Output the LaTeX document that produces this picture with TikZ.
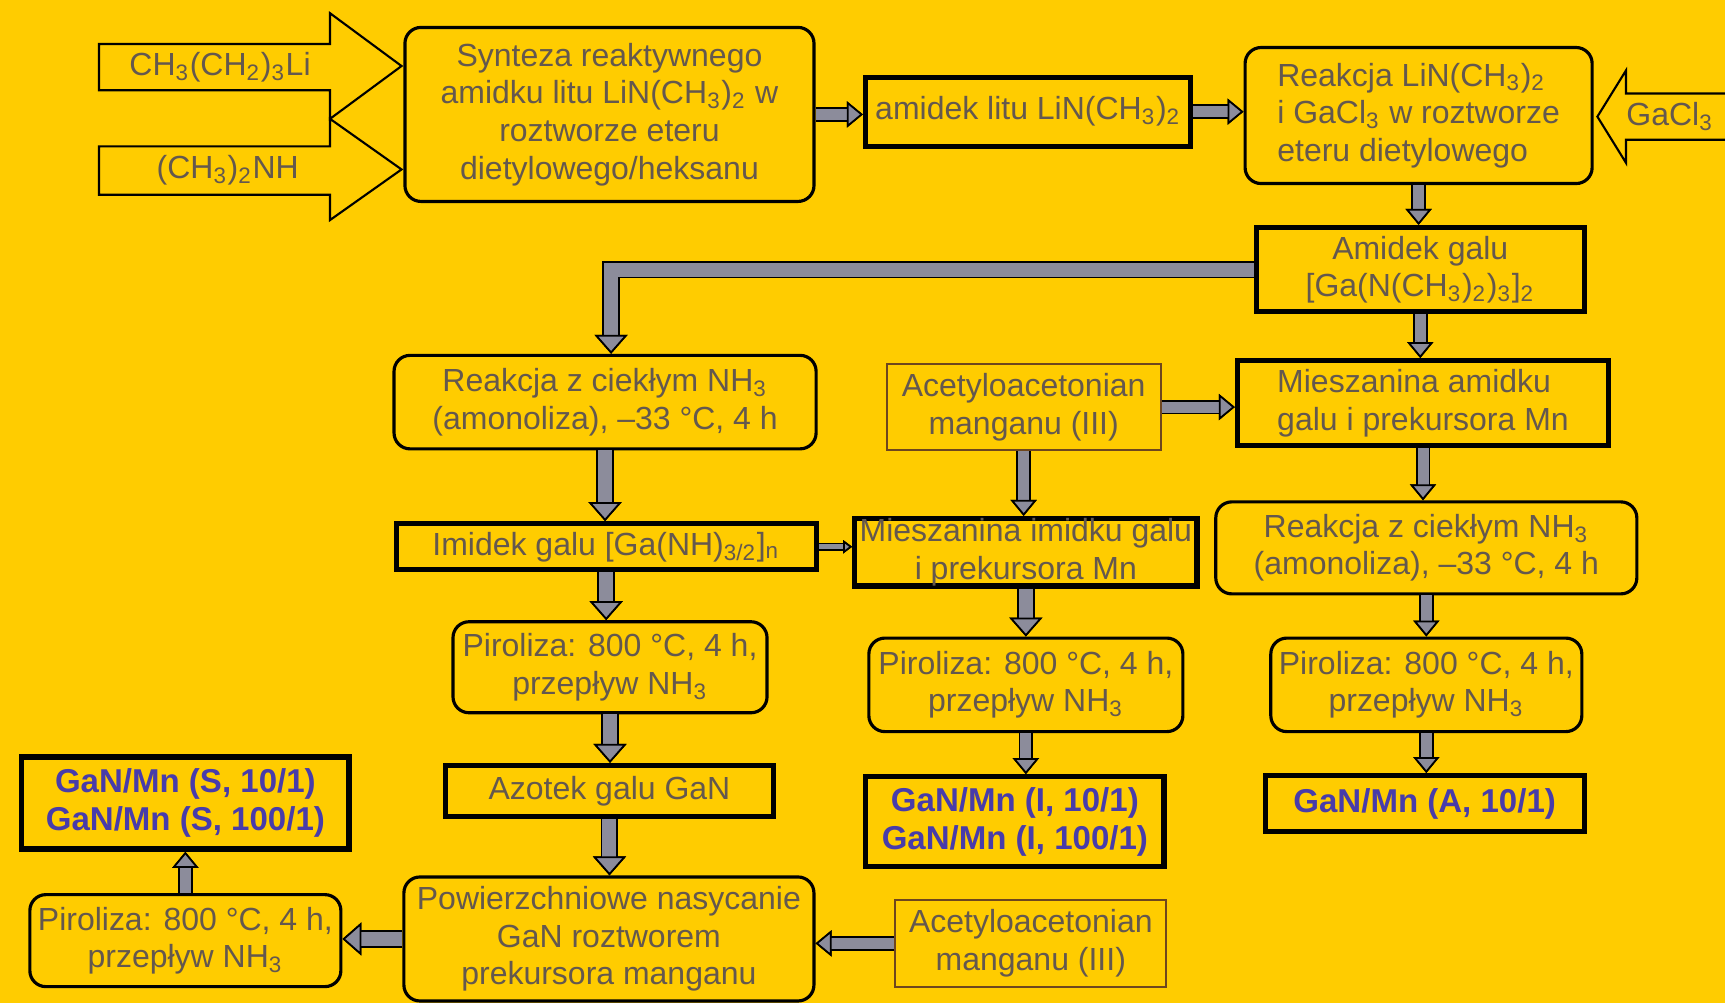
\documentclass[tikz,border=0pt]{standalone}
\usepackage{fontspec}
\setmainfont{Liberation Sans}
\usetikzlibrary{arrows.meta,positioning,calc}
\definecolor{bgyellow}{RGB}{255,204,0}
\definecolor{txtgray}{RGB}{100,88,78}
\definecolor{resblue}{RGB}{72,60,170}
\definecolor{arrowgray}{RGB}{140,140,155}
\definecolor{thinbrown}{RGB}{110,70,30}

\begin{document}
\begin{tikzpicture}[x=0.11mm, y=-0.11mm,
    box/.style={rectangle, draw=black, text=txtgray, align=center, inner sep=0pt, font=\fontsize{9.1}{10.7}\selectfont},
    stage/.style={box, rounded corners=1.6mm, line width=0.9pt},
    product/.style={box, line width=1.5pt},
    reagent/.style={box, draw=thinbrown, line width=0.6pt},
    result/.style={product, text=resblue, font=\fontsize{9.4}{10.7}\selectfont\bfseries},
    feed/.style={draw=black, line width=0.6pt, fill=bgyellow},
    feedtext/.style={text=txtgray, font=\fontsize{9.1}{10.7}\selectfont},
    flow/.style n args={3}{draw=arrowgray, line width=#1,
      -{Triangle[width=#2, length=#3, line width=0.5pt, color=black, fill=arrowgray]},
      preaction={draw=black, line width=#1+1pt, -{Triangle[width=#2, length=#3, line width=0.5pt]}}},
    bigflow/.style={flow={1.4mm}{3.3mm}{1.9mm}},
    midflow/.style={flow={1.1mm}{2.6mm}{1.6mm}},
    thinflow/.style={flow={0.5mm}{1.3mm}{0.9mm}}
  ]

  \useasboundingbox (0,0) rectangle (1568,912);
  \fill[bgyellow] (0,0) rectangle (1568,912);

  % Starting reagents
  \draw[feed] (90,40) -- (300,40) -- (300,12) -- (365,60) -- (300,108) -- (300,82) -- (90,82) -- cycle;
  \draw[feed] (90,133) -- (300,133) -- (300,108) -- (365,154) -- (300,200) -- (300,177) -- (90,177) -- cycle;
  \node[feedtext] (buli) at (200,61) {CH\textsubscript{3}(CH\textsubscript{2})\textsubscript{3}Li};
  \node[feedtext] (dma) at (207,155) {(CH\textsubscript{3})\textsubscript{2}NH};
  \draw[feed] (1568,85) -- (1478,85) -- (1478,64) -- (1452,106) -- (1478,148) -- (1478,127) -- (1568,127);
  \node[feedtext] (gacl) at (1518,106) {GaCl\textsubscript{3}};

  % Top row
  \node[stage, minimum width=40.9mm, minimum height=17.4mm] (synth) at (554,104)
    {Synteza reaktywnego\\ amidku litu LiN(CH\textsubscript{3})\textsubscript{2} w\\ roztworze eteru\\ dietylowego/heksanu};
  \node[product, minimum width=32.5mm, minimum height=6.9mm] (liamide) at (934.5,101.5)
    {amidek litu LiN(CH\textsubscript{3})\textsubscript{2}};
  \node[stage, align=left, minimum width=34.7mm, minimum height=13.6mm] (react) at (1289.5,105)
    {Reakcja LiN(CH\textsubscript{3})\textsubscript{2}\\ i GaCl\textsubscript{3} w roztworze\\ eteru dietylowego};
  \node[product, minimum width=32.8mm, minimum height=8.4mm] (gaamide) at (1291,245)
    {Amidek galu\\ {}[Ga(N(CH\textsubscript{3})\textsubscript{2})\textsubscript{3}]\textsubscript{2}};

  % Second row
  \node[stage, minimum width=42.2mm, minimum height=9.35mm] (ammon1) at (550,365.5)
    {Reakcja z ciekłym NH\textsubscript{3}\\ (amonoliza), –33 °C, 4 h};
  \node[reagent, minimum width=27.4mm, minimum height=8.6mm] (acac1) at (930.5,370)
    {Acetyloacetonian\\ manganu (III)};
  \node[product, align=left, minimum width=37.1mm, minimum height=8.5mm] (mix1) at (1293.5,366.5)
    {Mieszanina amidku\\ galu i prekursora Mn};

  % Third row
  \node[product, minimum width=42mm, minimum height=4.6mm] (imide) at (551,497)
    {Imidek galu [Ga(NH)\textsubscript{3/2}]\textsubscript{n}};
  \node[product, minimum width=34.2mm, minimum height=6.2mm] (mix2) at (932.5,502)
    {Mieszanina imidku galu\\ i prekursora Mn};
  \node[stage, minimum width=42.1mm, minimum height=9.2mm] (ammon2) at (1296.5,498)
    {Reakcja z ciekłym NH\textsubscript{3}\\ (amonoliza), –33 °C, 4 h};

  % Pyrolysis
  \node[stage, minimum width=31.4mm, minimum height=9.1mm] (pyro1) at (554.5,606.5)
    {Piroliza: 800 °C, 4 h,\\ przepływ NH\textsubscript{3}};
  \node[stage, minimum width=31.4mm, minimum height=9.35mm] (pyro2) at (932.5,622.5)
    {Piroliza: 800 °C, 4 h,\\ przepływ NH\textsubscript{3}};
  \node[stage, minimum width=31.1mm, minimum height=9.35mm] (pyro3) at (1296.5,622.5)
    {Piroliza: 800 °C, 4 h,\\ przepływ NH\textsubscript{3}};

  % Products
  \node[product, minimum width=32.8mm, minimum height=5.1mm] (gan) at (554,719) {Azotek galu GaN};
  \node[result, minimum width=29.8mm, minimum height=9mm] (resI) at (922.5,747)
    {GaN/Mn (I, 10/1)\\ GaN/Mn (I, 100/1)};
  \node[result, minimum width=31.9mm, minimum height=5.6mm] (resA) at (1295,730.5) {GaN/Mn (A, 10/1)};
  \node[result, minimum width=32.7mm, minimum height=9.2mm] (resS) at (168.5,730)
    {GaN/Mn (S, 10/1)\\ GaN/Mn (S, 100/1)};

  % Bottom row
  \node[stage, minimum width=31.1mm, minimum height=9.2mm] (pyro4) at (168.5,855)
    {Piroliza: 800 °C, 4 h,\\ przepływ NH\textsubscript{3}};
  \node[stage, minimum width=41mm, minimum height=12.4mm] (soak) at (553.5,853.5)
    {Powierzchniowe nasycanie\\ GaN roztworem\\ prekursora manganu};
  \node[reagent, minimum width=27.1mm, minimum height=8.7mm] (acac2) at (937,857.5)
    {Acetyloacetonian\\ manganu (III)};

  % Connectors
  \draw[midflow] (synth.east) -- (synth.east -| liamide.west);
  \draw[midflow] (liamide.east) -- (liamide.east -| react.west);
  \draw[midflow] (react.south) -- (react.south |- gaamide.north);
  \draw[bigflow] (gaamide.west) -| ([xshift=0.6mm]ammon1.north);
  \draw[midflow] (gaamide.south) -- (gaamide.south |- mix1.north);
  \draw[midflow] (acac1.east) -- (acac1.east -| mix1.west);
  \draw[bigflow] (ammon1.south) -- (ammon1.south |- imide.north);
  \draw[thinflow] (imide.east) -- (imide.east -| mix2.west);
  \draw[midflow] (acac1.south) -- (acac1.south |- mix2.north);
  \draw[midflow] (mix1.south) -- (mix1.south |- ammon2.north);
  \draw[bigflow] (imide.south) -- (imide.south |- pyro1.north);
  \draw[bigflow] (mix2.south) -- (mix2.south |- pyro2.north);
  \draw[midflow] (ammon2.south) -- (ammon2.south |- pyro3.north);
  \draw[bigflow] (pyro1.south) -- (pyro1.south |- gan.north);
  \draw[midflow] (pyro2.south) -- (pyro2.south |- resI.north);
  \draw[midflow] (pyro3.south) -- (pyro3.south |- resA.north);
  \draw[bigflow] (gan.south) -- (gan.south |- soak.north);
  \draw[bigflow] (soak.west) -- (soak.west -| pyro4.east);
  \draw[midflow] (acac2.west) -- (acac2.west -| soak.east);
  \draw[midflow] (pyro4.north) -- (pyro4.north |- resS.south);

\end{tikzpicture}
\end{document}
